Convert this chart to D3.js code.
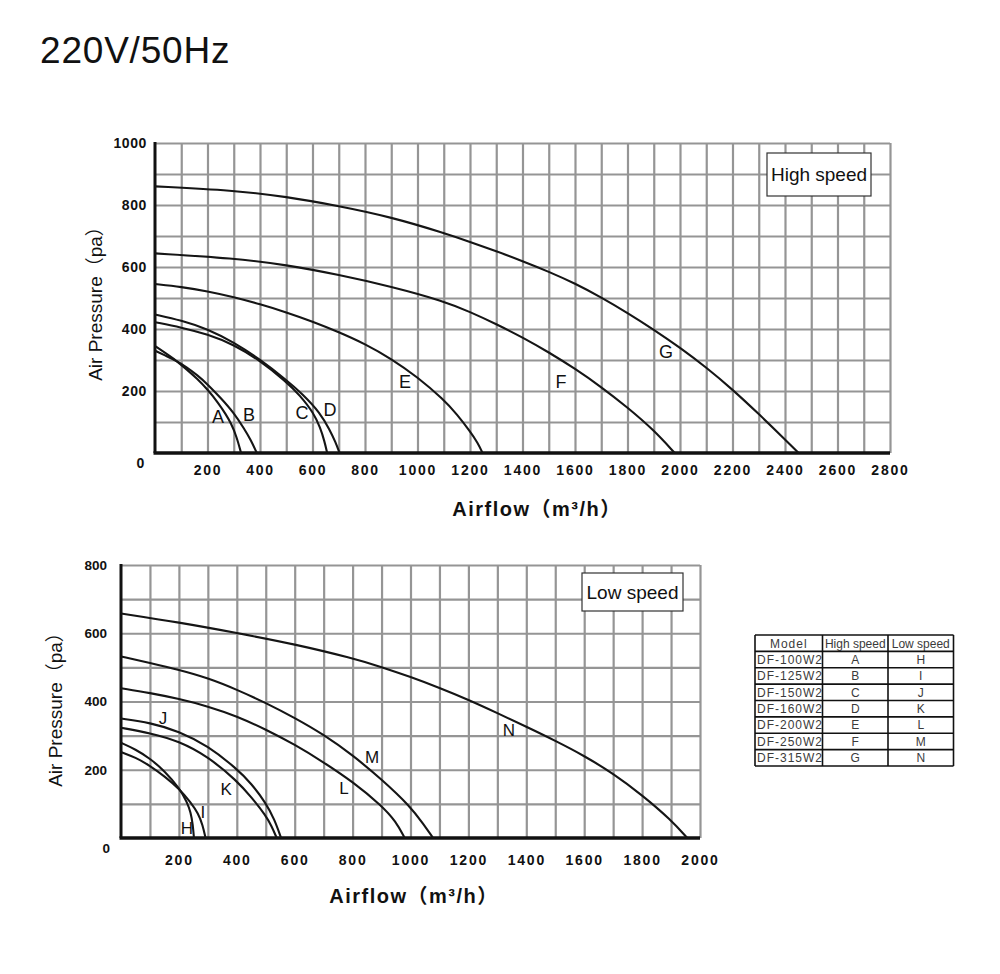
<!DOCTYPE html>
<html>
<head>
<meta charset="utf-8">
<script src="https://cdn.jsdelivr.net/npm/d3@7"></script>
<style>
  body { margin: 0; background: #fff; }
  text { font-family: Arial, "Liberation Sans", "Noto Sans CJK SC", sans-serif; }
</style>
</head>
<body>
<div id="chart"></div>
<script>
// ---- data: [airflow m3/h, pressure pa] ----
// high speed
var A = [[0,345],[40,322],[81,298],[120,270],[160,240],[200,205],[240,163],[270,125],[290,95],[310,55],[328,0]];
var B = [[0,330],[40,314],[81,298],[120,277],[160,252],[200,222],[250,178],[300,130],[340,78],[365,42],[388,0]];
var C = [[0,422],[100,405],[200,383],[300,350],[400,298],[500,230],[550,188],[605,129],[630,80],[645,40],[656,0]];
var D = [[0,447],[100,428],[200,400],[300,357],[400,302],[500,236],[560,192],[630,129],[665,75],[688,35],[703,0]];
var E = [[0,545],[100,536],[200,522],[300,503],[400,480],[500,454],[600,424],[700,390],[800,352],[900,304],[1000,245],[1100,172],[1150,125],[1200,70],[1230,32],[1248,0]];
var F = [[0,644],[300,628],[500,607],[700,575],[900,537],[1100,490],[1200,455],[1300,416],[1400,373],[1500,325],[1600,272],[1700,213],[1800,147],[1900,74],[1980,0]];
var G = [[0,860],[300,847],[500,827],[700,797],[900,761],[1100,710],[1200,681],[1300,651],[1400,619],[1500,585],[1600,547],[1700,502],[1800,452],[1900,398],[2000,340],[2100,276],[2200,205],[2300,126],[2400,44],[2452,0]];
// low speed
var H = [[0,279],[50,260],[100,233],[150,197],[203,145],[228,105],[241,75],[248,40],[252,0]];
var I = [[0,252],[50,236],[100,212],[150,181],[203,143],[240,105],[267,72],[282,38],[292,0]];
var J = [[0,350],[100,338],[200,313],[300,270],[400,203],[450,160],[500,103],[530,55],[553,0]];
var K = [[0,323],[100,308],[200,284],[300,239],[400,168],[450,120],[500,66],[520,35],[538,0]];
var L = [[0,439],[100,425],[200,408],[300,386],[400,357],[500,318],[600,274],[700,222],[800,165],[900,95],[950,48],[980,0]];
var M = [[0,532],[100,513],[200,493],[300,469],[400,435],[500,396],[600,352],[700,303],[800,243],[900,172],[1000,92],[1045,40],[1078,0]];
var N = [[0,658],[200,632],[400,601],[600,568],[800,527],[900,501],[1000,472],[1100,440],[1200,405],[1300,366],[1400,326],[1500,285],[1600,241],[1700,189],[1800,126],[1900,53],[1956,0]];

// curve letters and where they sit (data units)
var highNames = ["A","B","C","D","E","F","G"];
var highLabelAt = [[240,119],[358,123],[560,132],[667,139],[952,232],[1547,232],[1947,326]];
var lowNames = ["H","I","J","K","L","M","N"];
var lowLabelAt = [[228,29],[283,76],[145,352],[363,144],[770,146],[867,237],[1340,316]];

// ticks
var topXTicks = [200,400,600,800,1000,1200,1400,1600,1800,2000,2200,2400,2600,2800];
var topYTicks = [0,200,400,600,800,1000];
var botXTicks = [200,400,600,800,1000,1200,1400,1600,1800,2000];
var botYTicks = [0,200,400,600,800];

// table
var models = ["DF-100W2","DF-125W2","DF-150W2","DF-160W2","DF-200W2","DF-250W2","DF-315W2"];
var tableHeader = ["Model","High speed","Low speed"];

var svg = d3.select("#chart").append("svg")
    .attr("width", 1000)
    .attr("height", 974);

svg.append("rect").attr("width", 1000).attr("height", 974).attr("fill", "#fff");

svg.append("text")
    .attr("x", 40).attr("y", 63)
    .attr("font-size", 37)
    .attr("letter-spacing", 0.8)
    .attr("fill", "#111")
    .text("220V/50Hz");

function panel(o) {
    var x = d3.scaleLinear().domain([0, o.xMax]).range([o.left, o.right]);
    var y = d3.scaleLinear().domain([0, o.yMax]).range([o.bottom, o.top]);
    var g = svg.append("g");

    // grid every 100
    g.append("g")
        .attr("transform", "translate(0," + o.bottom + ")")
        .call(d3.axisBottom(x).tickValues(d3.range(100, o.xMax + 1, 100))
            .tickSize(-(o.bottom - o.top)).tickFormat(""))
        .call(function(s) { s.select(".domain").remove(); })
        .selectAll("line").attr("stroke", "#959595").attr("stroke-width", 2.2);
    g.append("g")
        .attr("transform", "translate(" + o.left + ",0)")
        .call(d3.axisLeft(y).tickValues(d3.range(100, o.yMax + 1, 100))
            .tickSize(-(o.right - o.left)).tickFormat(""))
        .call(function(s) { s.select(".domain").remove(); })
        .selectAll("line").attr("stroke", "#959595").attr("stroke-width", 2.2);

    // black axis lines
    g.append("line")
        .attr("x1", x(0)).attr("x2", x(0)).attr("y1", y(o.yMax) - 1).attr("y2", y(0))
        .attr("stroke", "#111").attr("stroke-width", 3);
    g.append("line")
        .attr("x1", x(0) - 1.5).attr("x2", x(o.xMax)).attr("y1", y(0)).attr("y2", y(0))
        .attr("stroke", "#111").attr("stroke-width", 3.5);

    // tick labels
    var xa = g.append("g")
        .attr("transform", "translate(0," + o.bottom + ")")
        .call(d3.axisBottom(x).tickValues(o.xTicks).tickSize(0).tickPadding(o.xPad)
            .tickFormat(d3.format("d")));
    xa.select(".domain").remove();
    xa.selectAll("text")
        .attr("font-size", 14).attr("font-weight", "bold")
        .attr("letter-spacing", 1.8).attr("fill", "#111")
        .style("font-family", "Arial, 'Liberation Sans', sans-serif");

    var ya = g.append("g")
        .attr("transform", "translate(" + o.left + ",0)")
        .call(d3.axisLeft(y).tickValues(o.yTicks).tickSize(0).tickPadding(o.yPad)
            .tickFormat(d3.format("d")));
    ya.select(".domain").remove();
    ya.selectAll("text")
        .attr("font-size", o.yFont).attr("font-weight", "bold")
        .attr("letter-spacing", o.ySpace).attr("fill", "#111")
        .style("font-family", "Arial, 'Liberation Sans', sans-serif");
    ya.selectAll(".tick").filter(function(d) { return d === 0; })
        .select("text")
        .attr("transform", "translate(" + o.zeroShift[0] + "," + o.zeroShift[1] + ")");

    // curves
    var line = d3.line()
        .x(function(d) { return x(d[0]); })
        .y(function(d) { return y(d[1]); })
        .curve(d3.curveBasis);
    g.selectAll("path.curve")
        .data(o.curves)
        .enter()
        .append("path")
        .attr("class", "curve")
        .attr("d", line)
        .attr("fill", "none")
        .attr("stroke", "#151515")
        .attr("stroke-width", 2.1);

    // curve letters
    g.selectAll("text.lbl")
        .data(o.names)
        .enter()
        .append("text")
        .attr("class", "lbl")
        .attr("x", function(d, i) { return x(o.labelAt[i][0]); })
        .attr("y", function(d, i) { return y(o.labelAt[i][1]); })
        .attr("dy", "0.36em")
        .attr("text-anchor", "middle")
        .attr("font-size", o.lblFont)
        .attr("fill", "#111")
        .text(function(d) { return d; });

    // speed box
    g.append("rect")
        .attr("x", o.box[0]).attr("y", o.box[1])
        .attr("width", o.box[2]).attr("height", o.box[3])
        .attr("fill", "#fff").attr("stroke", "#333").attr("stroke-width", 1.2);
    g.append("text")
        .attr("x", o.box[0] + o.box[2] / 2).attr("y", o.box[1] + o.box[3] / 2)
        .attr("dy", "0.35em")
        .attr("text-anchor", "middle")
        .attr("font-size", 19)
        .attr("fill", "#111")
        .text(o.boxText);

    // axis titles
    g.append("text")
        .attr("transform", "translate(" + o.yTitle[0] + "," + o.yTitle[1] + ") rotate(-90)")
        .attr("text-anchor", "middle")
        .attr("dy", "0.35em")
        .attr("font-size", 19)
        .attr("fill", "#111")
        .text("Air Pressure（pa）");
    g.append("text")
        .attr("x", o.xTitle[0]).attr("y", o.xTitle[1])
        .attr("text-anchor", "middle")
        .attr("dy", "0.35em")
        .attr("font-size", 20)
        .attr("font-weight", "bold")
        .attr("letter-spacing", 1.5)
        .attr("fill", "#111")
        .text("Airflow（m³/h）");
}

panel({
    left: 155, right: 890, top: 143, bottom: 453, xMax: 2800, yMax: 1000,
    xTicks: topXTicks, yTicks: topYTicks, xPad: 12, yPad: 8, yFont: 14, ySpace: 0.6,
    zeroShift: [-2, 10],
    curves: [A, B, C, D, E, F, G], names: highNames, labelAt: highLabelAt, lblFont: 18,
    box: [767, 153, 104, 43], boxText: "High speed",
    yTitle: [95, 299], xTitle: [537, 509]
});

panel({
    left: 121, right: 700, top: 565, bottom: 838, xMax: 2000, yMax: 800,
    xTicks: botXTicks, yTicks: botYTicks, xPad: 17, yPad: 14, yFont: 13.5, ySpace: 0,
    zeroShift: [3, 10],
    curves: [H, I, J, K, L, M, N], names: lowNames, labelAt: lowLabelAt, lblFont: 17,
    box: [582, 573, 101, 38], boxText: "Low speed",
    yTitle: [55, 705], xTitle: [414, 896]
});

// model table
var cols = [755, 822.5, 888, 953.5];
var rowY = d3.scaleBand().domain(d3.range(models.length + 1)).range([635, 766]);
var tbl = svg.append("g");
var rows = [tableHeader].concat(models.map(function(m, i) { return [m, highNames[i], lowNames[i]]; }));

rows.forEach(function(r, ri) {
    r.forEach(function(cell, ci) {
        var leftAlign = ci === 0 && ri > 0;
        tbl.append("text")
            .attr("x", leftAlign ? cols[0] + 2 : (cols[ci] + cols[ci + 1]) / 2)
            .attr("y", rowY(ri) + rowY.bandwidth() / 2)
            .attr("dy", "0.36em")
            .attr("text-anchor", leftAlign ? "start" : "middle")
            .attr("font-size", 12)
            .attr("letter-spacing", ci === 0 ? 1 : 0)
            .attr("fill", "#3a3a3a")
            .text(cell);
    });
});

d3.range(models.length + 2).forEach(function(i) {
    var yy = i <= models.length ? rowY(i) : rowY.range()[1];
    tbl.append("line")
        .attr("x1", cols[0]).attr("x2", cols[3]).attr("y1", yy).attr("y2", yy)
        .attr("stroke", "#111").attr("stroke-width", 1.6);
});
cols.forEach(function(cx) {
    tbl.append("line")
        .attr("x1", cx).attr("x2", cx).attr("y1", 635).attr("y2", 766)
        .attr("stroke", "#111").attr("stroke-width", 1.6);
});
</script>
</body>
</html>
